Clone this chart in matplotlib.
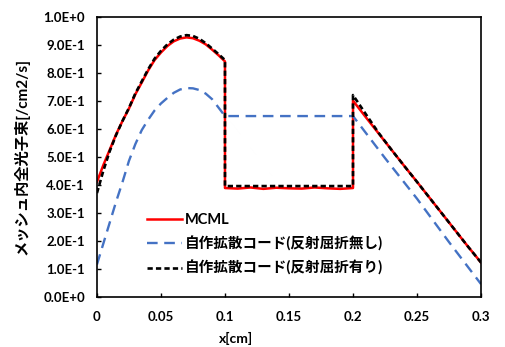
import matplotlib.pyplot as plt

plt.rcParams['font.family'] = ['Lato', 'Noto Sans CJK JP']
plt.rcParams['font.weight'] = 'bold'

# MCML
x_mcml = [0, 0.005, 0.01, 0.015, 0.02, 0.025, 0.03, 0.035, 0.04, 0.045, 0.05,
          0.055, 0.06, 0.065, 0.07, 0.075, 0.08, 0.085, 0.09, 0.095, 0.1,
          0.1, 0.11, 0.12, 0.13, 0.14, 0.15, 0.16, 0.17, 0.18, 0.19, 0.2,
          0.2, 0.21, 0.22, 0.23, 0.24, 0.25, 0.26, 0.27, 0.28, 0.29, 0.3]
y_mcml = [0.41, 0.47, 0.525, 0.58, 0.628, 0.672, 0.723, 0.765, 0.808, 0.845, 0.872,
          0.895, 0.912, 0.922, 0.926, 0.923, 0.914, 0.901, 0.882, 0.862, 0.84,
          0.388, 0.386, 0.39, 0.385, 0.389, 0.387, 0.386, 0.39, 0.387, 0.385, 0.388,
          0.70, 0.641, 0.583, 0.525, 0.467, 0.41, 0.352, 0.294, 0.236, 0.178, 0.122]

# 自作拡散コード(反射屈折無し)
x_nashi = [0, 0.005, 0.01, 0.015, 0.02, 0.025, 0.03, 0.035, 0.04, 0.045, 0.05,
           0.055, 0.06, 0.065, 0.07, 0.075, 0.08, 0.085, 0.09, 0.095, 0.1,
           0.2, 0.225, 0.25, 0.275, 0.3]
y_nashi = [0.115, 0.19, 0.265, 0.34, 0.41, 0.485, 0.545, 0.595, 0.632, 0.665, 0.69,
           0.71, 0.728, 0.74, 0.745, 0.744, 0.738, 0.725, 0.705, 0.675, 0.645,
           0.645, 0.495, 0.35, 0.195, 0.045]

# 自作拡散コード(反射屈折有り)
x_ari = [0, 0.005, 0.01, 0.015, 0.02, 0.025, 0.03, 0.035, 0.04, 0.045, 0.05,
         0.055, 0.06, 0.065, 0.07, 0.075, 0.08, 0.085, 0.09, 0.095, 0.1,
         0.1, 0.2,
         0.2, 0.21, 0.22, 0.23, 0.24, 0.25, 0.26, 0.27, 0.28, 0.29, 0.3]
y_ari = [0.37, 0.45, 0.52, 0.578, 0.628, 0.674, 0.726, 0.769, 0.812, 0.85, 0.878,
         0.901, 0.918, 0.929, 0.934, 0.931, 0.921, 0.905, 0.886, 0.866, 0.845,
         0.395, 0.395,
         0.72, 0.652, 0.585, 0.525, 0.467, 0.41, 0.352, 0.294, 0.236, 0.178, 0.122]

xticks = [0, 0.05, 0.1, 0.15, 0.2, 0.25, 0.3]
xtick_labels = ['0', '0.05', '0.1', '0.15', '0.2', '0.25', '0.3']
yticks = [0, 0.1, 0.2, 0.3, 0.4, 0.5, 0.6, 0.7, 0.8, 0.9, 1.0]
ytick_labels = ['0.0E+0', '1.0E-1', '2.0E-1', '3.0E-1', '4.0E-1', '5.0E-1',
                '6.0E-1', '7.0E-1', '8.0E-1', '9.0E-1', '1.0E+0']

fig = plt.figure(figsize=(5.05, 3.47), dpi=100)
ax = fig.add_axes([0.192, 0.145, 0.7605, 0.807])

ax.plot(x_mcml, y_mcml, color='#ff0000', linewidth=1.8, label='MCML')
ax.plot(x_nashi, y_nashi, color='#4472c4', linewidth=1.7,
        linestyle=(0, (4.5, 2.8)), label='自作拡散コード(反射屈折無し)')
ax.plot(x_ari, y_ari, color='black', linewidth=1.9,
        linestyle=(0, (2.0, 1.2)), label='自作拡散コード(反射屈折有り)')

ax.set_xlim(0, 0.3)
ax.set_ylim(0, 1.0)
ax.set_xticks(xticks)
ax.set_xticklabels(xtick_labels)
ax.set_yticks(yticks)
ax.set_yticklabels(ytick_labels)
ax.tick_params(direction='in', length=3, width=1, labelsize=9.5)
ax.tick_params(axis='y', pad=8.5)
ax.tick_params(axis='x', pad=10)

for s in ax.spines.values():
    s.set_linewidth(1.2)
    s.set_color('black')

ax.set_xlabel('x[cm]', fontsize=10, fontweight='bold')
ax.xaxis.set_label_coords(0.362, -0.125)
ax.set_ylabel('メッシュ内全光子束[/cm2/s]', fontsize=11, fontweight='bold')
ax.yaxis.set_label_coords(-0.175, 0.5)

ax.legend(loc='upper left', bbox_to_anchor=(0.13, 0.298), frameon=False,
          fontsize=10.5, handlelength=2.4, handletextpad=0.2,
          labelspacing=0.62, borderpad=0, borderaxespad=0)

plt.savefig('out.png', dpi=100)
